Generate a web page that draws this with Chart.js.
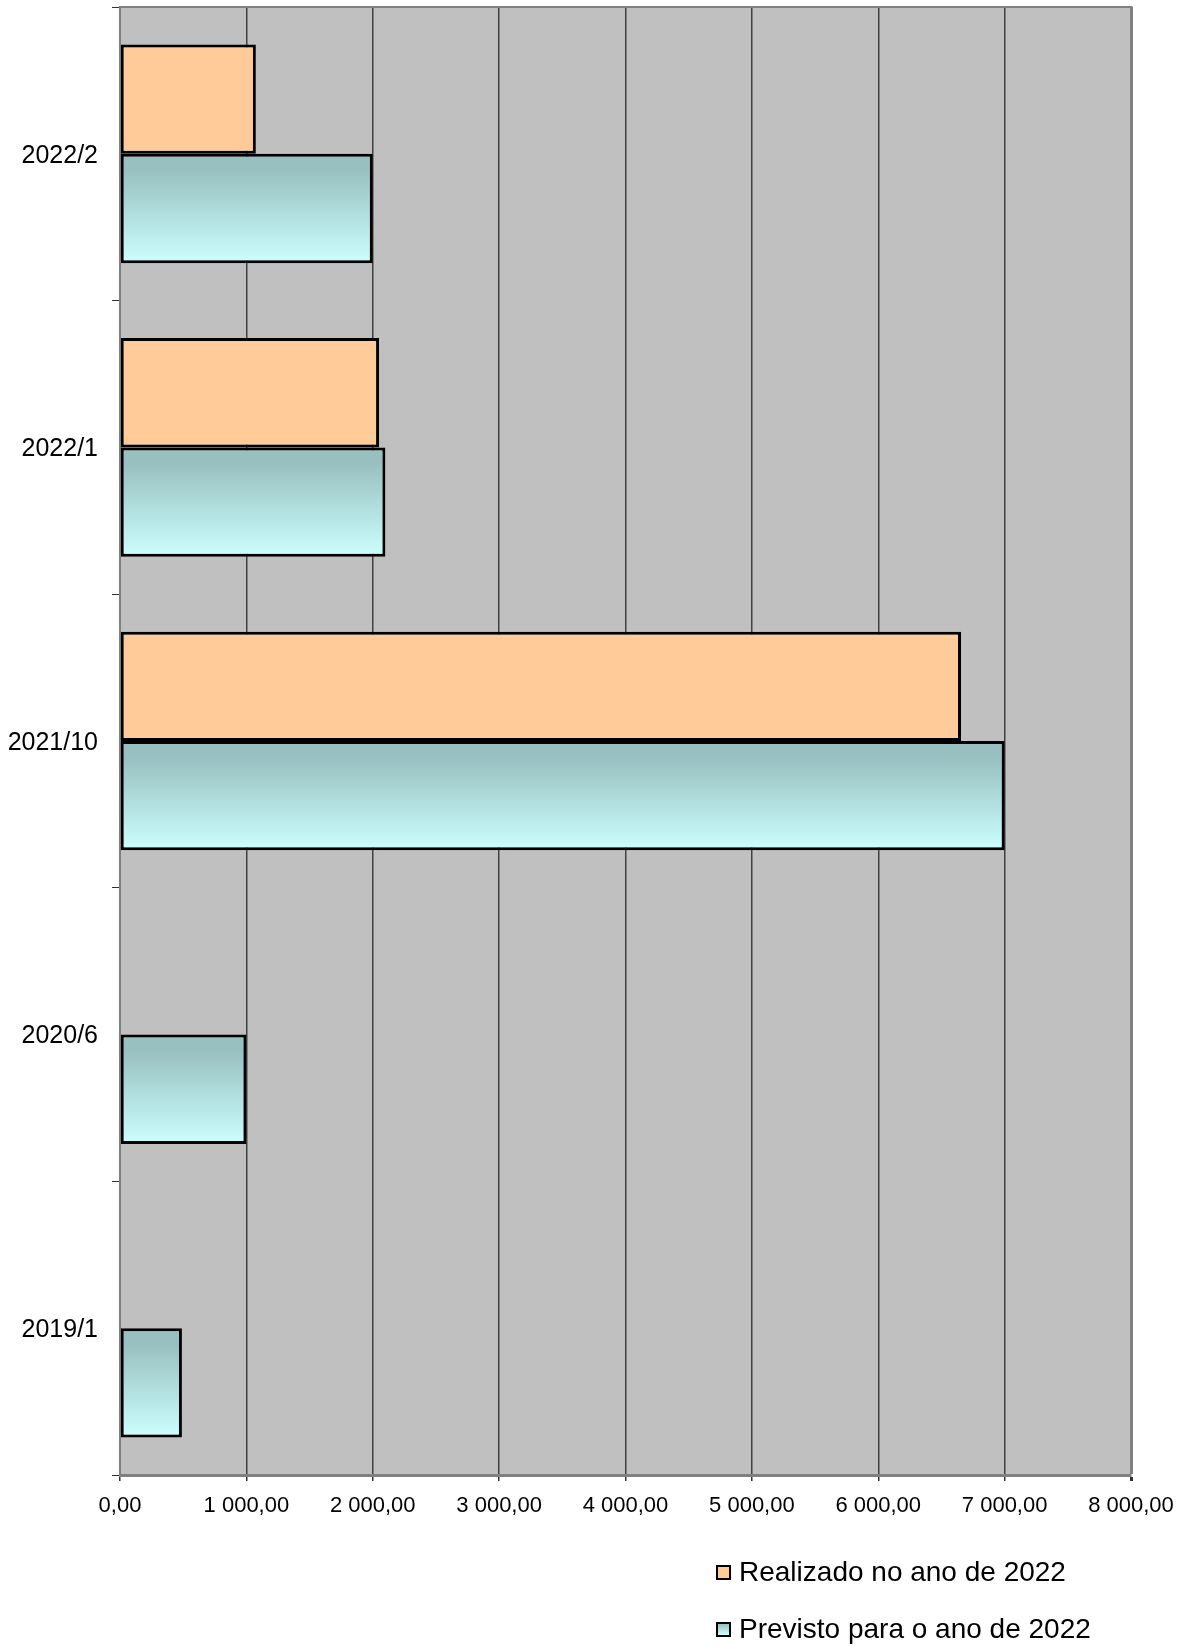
<!DOCTYPE html>
<html>
<head>
<meta charset="utf-8">
<script src="https://cdn.jsdelivr.net/npm/chart.js@4"></script>
<style>
  body { margin: 0; background: #fff; }
  #wrap { position: relative; width: 1187px; height: 1647px; }
  #legend { position: absolute; left: 0; top: 0; font-family: "Liberation Sans", Arial, sans-serif; font-size: 28px; color: #000; }
  .box { position: absolute; width: 11px; height: 11px; border: 2px solid #000; }
  .txt { position: absolute; line-height: 28px; white-space: nowrap; }
</style>
</head>
<body>
<div id="wrap">
  <canvas id="chart" width="1187" height="1647"></canvas>
  <div id="legend"></div>
</div>
<script>
// data
const categories = ['2022/2', '2022/1', '2021/10', '2020/6', '2019/1'];
const realizado = [1075, 2050, 6655, null, null];
const previsto = [2000, 2100, 7000, 1000, 490];
const seriesNames = ['Realizado no ano de 2022', 'Previsto para o ano de 2022'];
const xMax = 8000;
const xStep = 1000;

const CAT_PCT = 0.745;
const FONT = '"Liberation Sans", Arial, sans-serif';

// "1 000,00" style labels
function fmt(v) {
  const s = Math.round(v).toString().replace(/\B(?=(\d{3})+(?!\d))/g, ' ');
  return s + ',00';
}

// vertical gradient inside each cyan bar
function cyanFill(c) {
  const chart = c.chart;
  const y = chart.scales.y;
  if (!chart.chartArea || !y) return '#B3E0E0';
  const center = y.getPixelForValue(c.dataIndex);
  const band = chart.chartArea.height / categories.length;
  const g = chart.ctx.createLinearGradient(0, center, 0, center + band * CAT_PCT / 2);
  g.addColorStop(0, '#99C0C0');
  g.addColorStop(0.15, '#99C0C0');
  g.addColorStop(1, '#CCFFFF');
  return g;
}

// grey plot background + top border
const plotArea = {
  id: 'plotArea',
  beforeDraw(chart) {
    const a = chart.chartArea;
    const ctx = chart.ctx;
    ctx.save();
    ctx.fillStyle = '#C0C0C0';
    ctx.fillRect(a.left, a.top, a.right - a.left, a.bottom - a.top);
    ctx.restore();
  },
  afterDraw(chart) {
    const a = chart.chartArea;
    const ctx = chart.ctx;
    ctx.save();
    ctx.strokeStyle = '#808080';
    ctx.lineWidth = 2;
    ctx.beginPath();
    ctx.moveTo(a.left, a.top);
    ctx.lineTo(a.right + 1.5, a.top);
    ctx.stroke();
    ctx.restore();
  }
};

const ctx = document.getElementById('chart').getContext('2d');
const chart = new Chart(ctx, {
  type: 'bar',
  data: {
    labels: categories,
    datasets: [{
      label: seriesNames[0],
      data: realizado,
      backgroundColor: '#FFCC99',
      borderColor: '#000',
      borderWidth: 3,
      borderSkipped: false
    }, {
      label: seriesNames[1],
      data: previsto,
      backgroundColor: cyanFill,
      borderColor: '#000',
      borderWidth: 3,
      borderSkipped: false
    }]
  },
  options: {
    indexAxis: 'y',
    responsive: false,
    animation: false,
    layout: { padding: { top: 7, right: 56, bottom: 112, left: 0 } },
    datasets: { bar: { categoryPercentage: CAT_PCT, barPercentage: 1 } },
    plugins: {
      legend: { display: false },
      tooltip: { enabled: false }
    },
    scales: {
      x: {
        min: 0,
        max: xMax,
        ticks: {
          stepSize: xStep,
          callback: v => fmt(v),
          font: { family: FONT, size: 22 },
          color: '#000',
          padding: 12,
          maxRotation: 0,
          autoSkip: false
        },
        grid: {
          color: c => (c.tick && (c.tick.value === 0 || c.tick.value === xMax)) ? '#808080' : '#404040',
          lineWidth: c => (c.tick && c.tick.value === xMax) ? 3 : 1.5,
          tickLength: 6,
          tickColor: '#333'
        },
        border: { color: '#808080', width: 3 },
        afterFit: s => { s.height = 60; }
      },
      y: {
        ticks: {
          font: { family: FONT, size: 25 },
          color: '#000',
          padding: 14,
          labelOffset: 2
        },
        grid: {
          drawOnChartArea: false,
          offset: true,
          tickLength: 8,
          tickColor: '#333'
        },
        border: { color: '#808080', width: 2 },
        afterFit: s => { s.width = 120; s.paddingTop = 0; s.paddingBottom = 0; }
      }
    }
  },
  plugins: [plotArea]
});

// legend below the plot, stacked
const legend = document.getElementById('legend');
const legendFills = ['#FFCC99', 'linear-gradient(#99C0C0, #CCFFFF)'];
const rowCenters = [1572, 1629];
seriesNames.forEach((name, i) => {
  const box = document.createElement('div');
  box.className = 'box';
  box.style.left = '716px';
  box.style.top = (rowCenters[i] - 7.5) + 'px';
  box.style.background = legendFills[i];
  legend.appendChild(box);
  const t = document.createElement('div');
  t.className = 'txt';
  t.style.left = '739px';
  t.style.top = (rowCenters[i] - 13.7) + 'px';
  t.textContent = name;
  legend.appendChild(t);
});
</script>
</body>
</html>
